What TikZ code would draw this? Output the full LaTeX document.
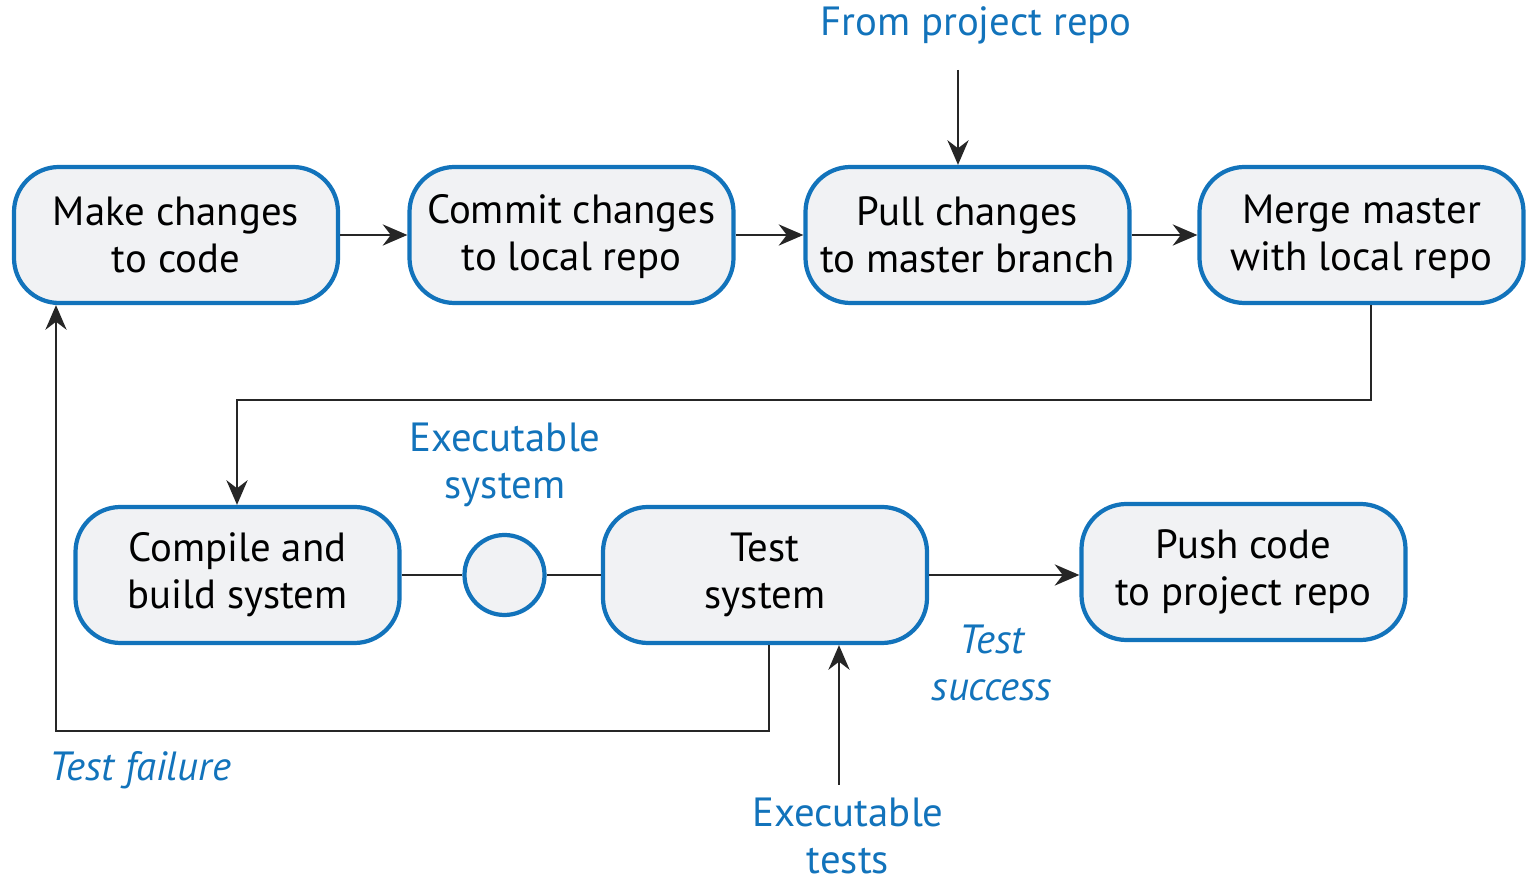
\documentclass[tikz,border=0pt]{standalone}
\usepackage{fontspec}
\setmainfont{PT Sans}
\usetikzlibrary{arrows.meta}
\definecolor{flowblue}{HTML}{1273BB}
\definecolor{boxfill}{HTML}{F1F2F4}
\begin{document}
\begin{tikzpicture}[
    stagebox/.style={draw=flowblue, fill=boxfill, line width=1.2pt, rounded corners=0.45cm,
        minimum width=3.24cm, minimum height=1.36cm, align=center, font=\fontsize{11.6}{13.4}\selectfont},
    flowlabel/.style={text=flowblue, align=center, font=\fontsize{11.6}{13.4}\selectfont},
    flow/.style={-{Stealth[length=7pt,width=6pt]}, line width=0.8pt, black!85}
]
    \useasboundingbox (0,0) rectangle (15.26,8.8);
    % top row
    \node[stagebox] (make) at (1.76,6.45) {Make changes\\to code};
    \node[stagebox] (commit) at (5.715,6.45) {\strut Commit changes\\to local repo};
    \node[stagebox] (pull) at (9.675,6.45) {Pull changes\\to master branch};
    \node[stagebox] (merge) at (13.615,6.45) {\strut Merge master\\with local repo};
    % bottom row
    \node[stagebox] (build) at (2.375,3.05) {Compile and\\build system};
    \node[circle, draw=flowblue, fill=boxfill, line width=1.2pt, minimum size=0.8cm] (exec) at (5.045,3.05) {};
    \node[stagebox] (test) at (7.65,3.05) {Test\\system};
    \node[stagebox] (push) at (12.435,3.08) {Push code\\to project repo};
    % labels
    \node[flowlabel] (repo) at (9.76,8.55) {From project repo};
    \node[flowlabel] (sysl) at (5.05,4.15) {Executable\\system};
    \node[flowlabel, font=\fontsize{11.6}{13.4}\selectfont\itshape] (succ) at (9.92,2.17) {Test\\success};
    \node[flowlabel, font=\fontsize{11.6}{13.4}\selectfont\itshape] (fail) at (1.40,1.10) {Test failure};
    \node[flowlabel] (tests) at (8.48,0.44) {Executable\\tests};
    \coordinate (repoend) at (9.58,8.10);
    \coordinate (testsend) at (8.39,0.95);
    % connectors
    \draw[flow] (make) -- (commit);
    \draw[flow] (commit) -- (pull);
    \draw[flow] (pull) -- (merge);
    \draw[flow] (repoend) -- (pull.north -| repoend);
    \draw[flow] (merge.south -| 13.71,0) -- (13.71,4.80) -- (2.37,4.80) -- (build.north -| 2.37,0);
    \draw[line width=0.8pt, black!85] (build) -- (exec) -- (test);
    \draw[flow] (test.east) -- (push.west |- test.east);
    \draw[flow] (test.south -| 7.69,0) -- (7.69,1.49) -- (0.56,1.49) -- (make.south -| 0.56,0);
    \draw[flow] (testsend) -- (test.south -| testsend);
\end{tikzpicture}
\end{document}
